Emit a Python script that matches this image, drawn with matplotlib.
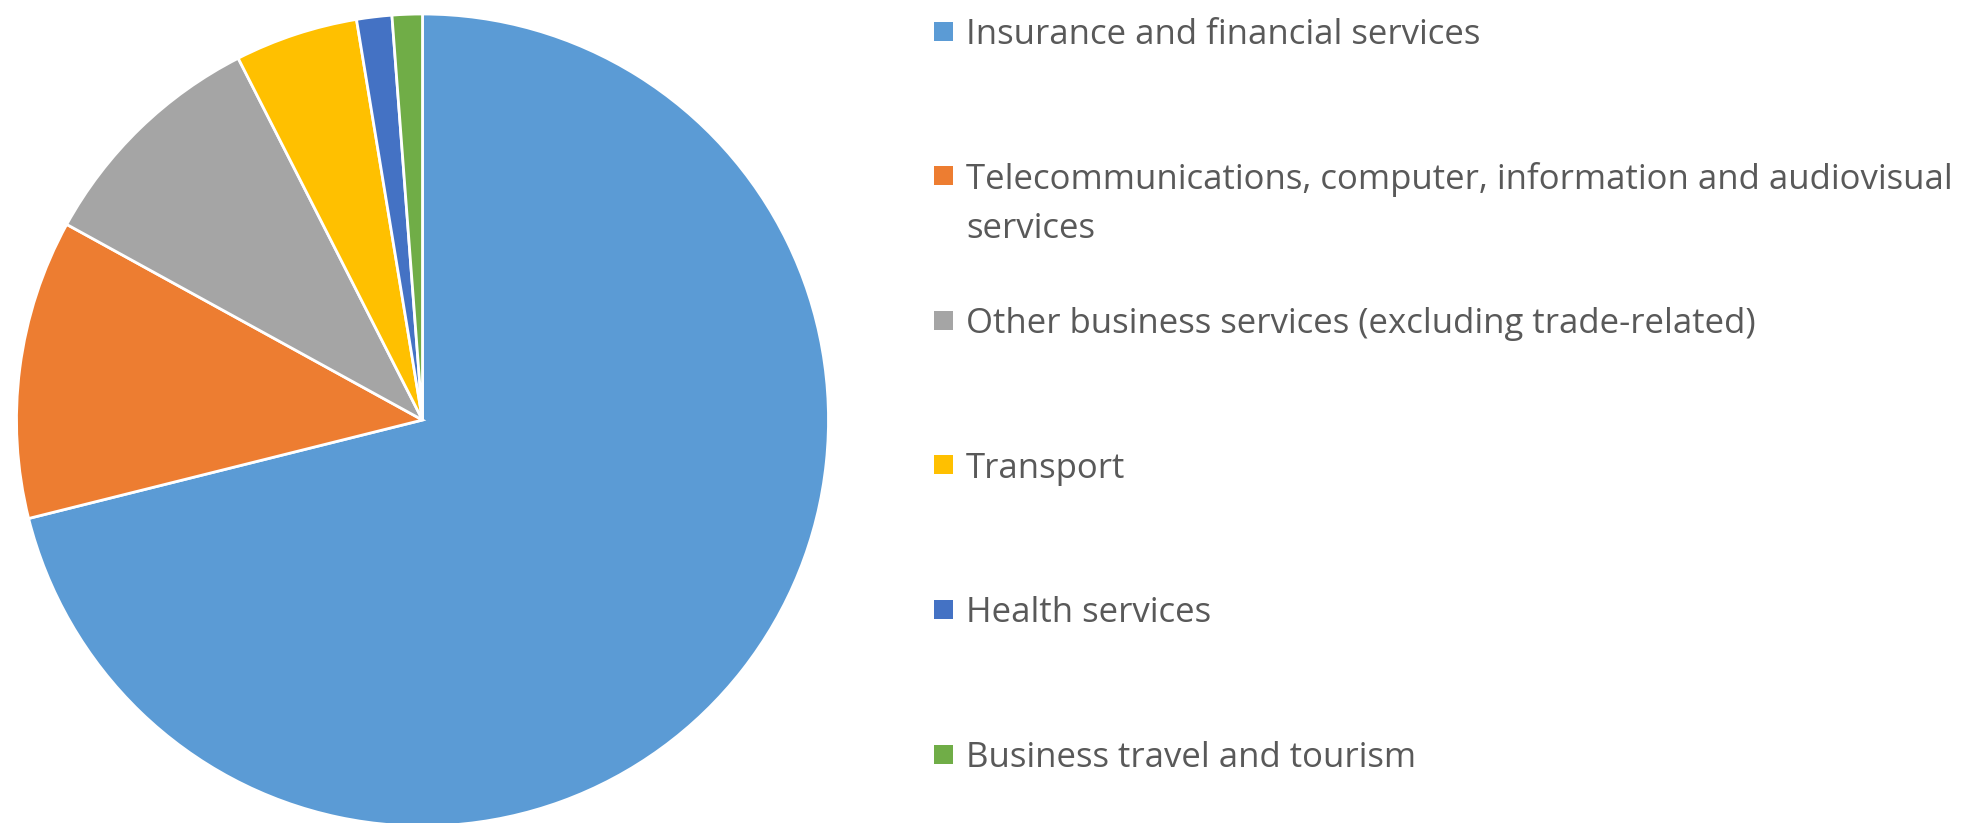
import matplotlib.pyplot as plt
from matplotlib.patches import Rectangle

# shares in percent
categories = [
    "Insurance and financial services",
    "Telecommunications, computer, information and audiovisual\nservices",
    "Other business services (excluding trade-related)",
    "Transport",
    "Health services",
    "Business travel and tourism",
]
shares = [71.1, 11.9, 9.5, 4.9, 1.4, 1.2]
colors = ["#5B9BD5", "#ED7D31", "#A5A5A5", "#FFC000", "#4472C4", "#70AD47"]

W, H = 1965, 823
fig = plt.figure(figsize=(W / 100, H / 100), dpi=100)

# pie centre and radius in pixels
cx, cy, r = 422.5, 420, 406
ax = fig.add_axes([(cx - r) / W, (H - cy - r) / H, 2 * r / W, 2 * r / H])
ax.pie(shares, colors=colors, startangle=90, counterclock=False,
       wedgeprops=dict(edgecolor="white", linewidth=2))
ax.set_xlim(-1, 1)
ax.set_ylim(-1, 1)
ax.axis("off")

# legend drawn by hand so the spacing follows the original
text_color = "#595959"
first_y = 31
step = 144.6
line_gap = 49
for i, (label, col) in enumerate(zip(categories, colors)):
    y = first_y + i * step
    fig.patches.append(Rectangle((934 / W, 1 - (y + 9.5) / H), 19 / W, 19 / H,
                                 transform=fig.transFigure, facecolor=col,
                                 edgecolor="none"))
    # one text per line, marker sits beside the first line
    for j, line in enumerate(label.split("\n")):
        fig.text(966 / W, 1 - (y + 13 + j * line_gap) / H, line,
                 color=text_color, fontsize=25, family="Open Sans",
                 va="baseline", ha="left")

fig.savefig("out.png", dpi=100)
